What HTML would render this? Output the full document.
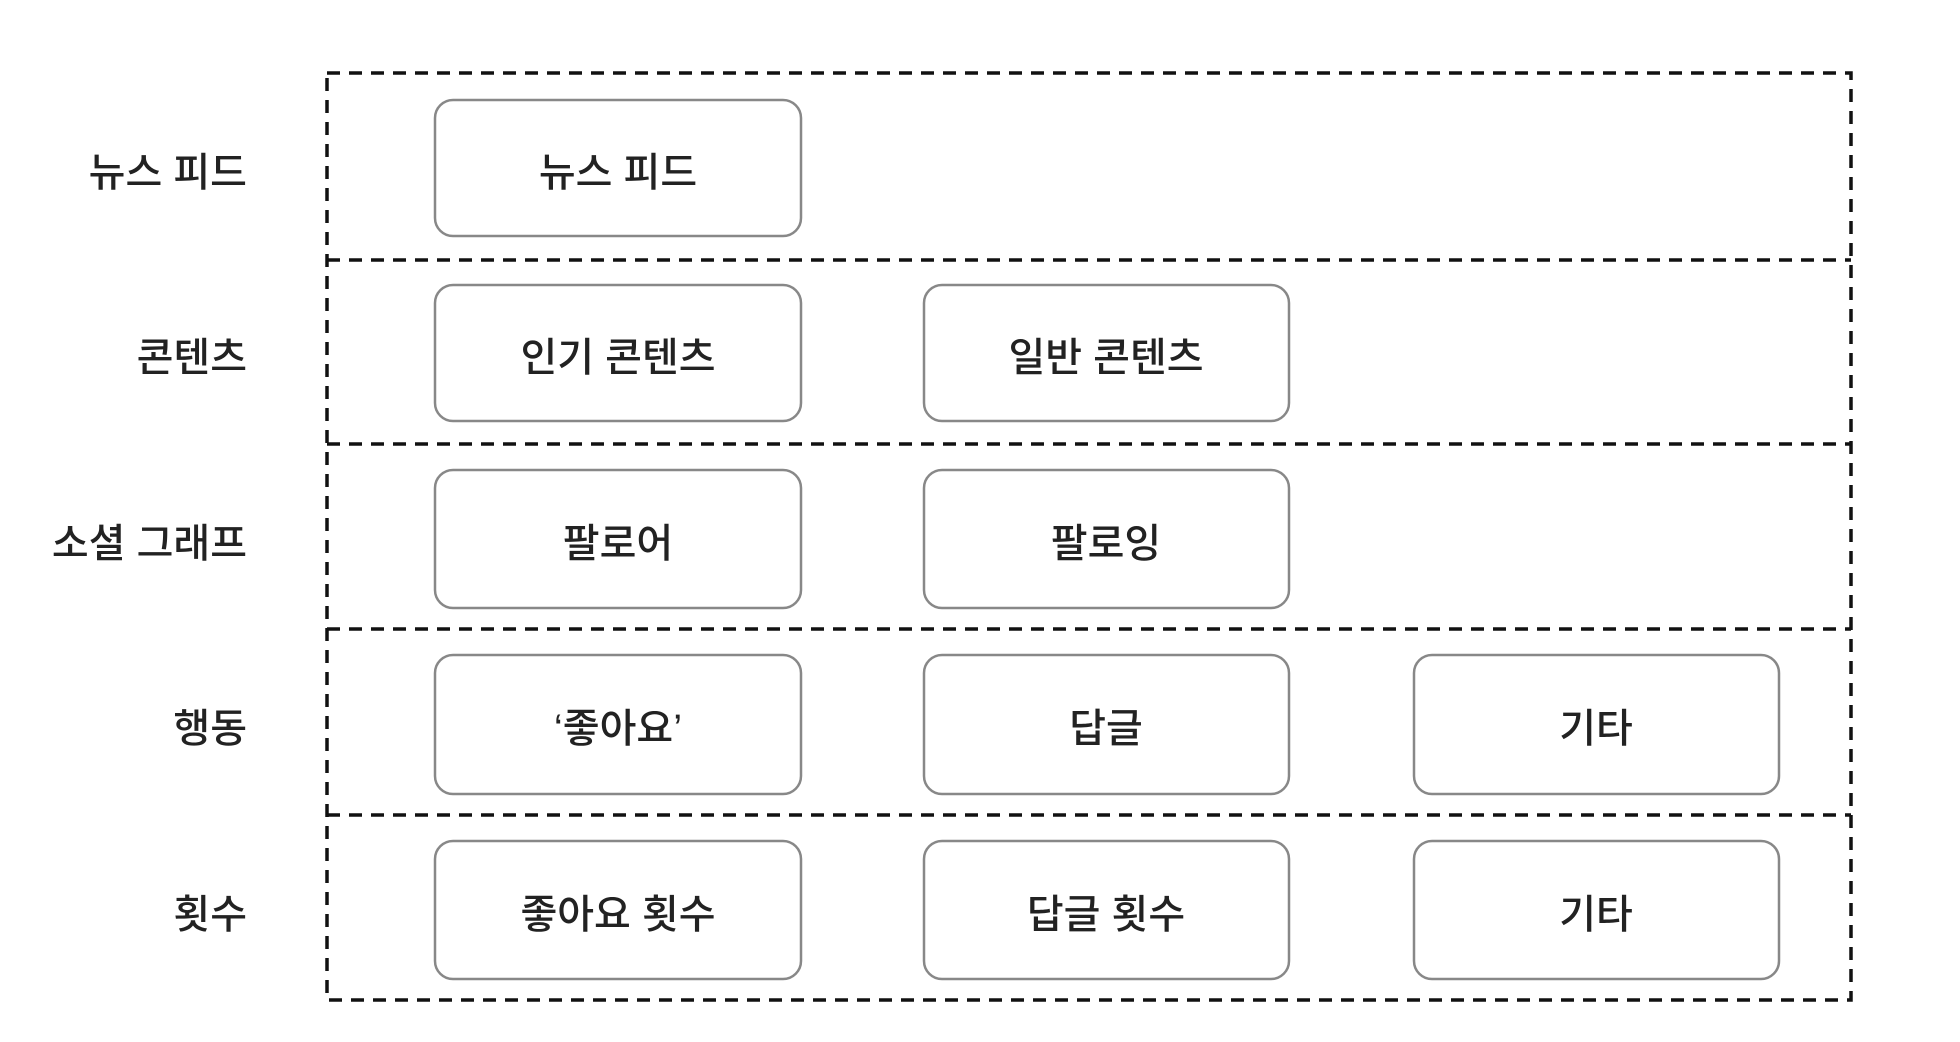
<!DOCTYPE html>
<html><head><meta charset="utf-8"><style>
html,body{margin:0;padding:0;background:#fff;}
svg{display:block;}
text{font-family:"Liberation Sans","Noto Sans CJK KR","NanumGothic",sans-serif;font-size:40px;fill:#222;font-weight:500;}
</style></head><body>
<svg width="1960" height="1042" viewBox="0 0 1960 1042" xmlns="http://www.w3.org/2000/svg">
<g fill="none" stroke="#111" stroke-width="3.5" stroke-dasharray="13 9">
<rect x="327" y="73" width="1524" height="927"/>
<line x1="327" y1="260" x2="1851" y2="260"/>
<line x1="327" y1="444" x2="1851" y2="444"/>
<line x1="327" y1="629" x2="1851" y2="629"/>
<line x1="327" y1="815" x2="1851" y2="815"/>
</g>
<g fill="#fff" stroke="#888" stroke-width="2.5">
<rect x="435" y="100" width="366" height="136" rx="18"/>
<rect x="435" y="285" width="366" height="136" rx="18"/>
<rect x="924" y="285" width="365" height="136" rx="18"/>
<rect x="435" y="470" width="366" height="138" rx="18"/>
<rect x="924" y="470" width="365" height="138" rx="18"/>
<rect x="435" y="655" width="366" height="139" rx="18"/>
<rect x="924" y="655" width="365" height="139" rx="18"/>
<rect x="1414" y="655" width="365" height="139" rx="18"/>
<rect x="435" y="841" width="366" height="138" rx="18"/>
<rect x="924" y="841" width="365" height="138" rx="18"/>
<rect x="1414" y="841" width="365" height="138" rx="18"/>
</g>
<g text-anchor="end">
<text x="247" y="186">뉴스 피드</text>
<text x="247" y="371">콘텐츠</text>
<text x="247" y="557">소셜 그래프</text>
<text x="247" y="742">행동</text>
<text x="247" y="928">횟수</text>
</g>
<g text-anchor="middle">
<text x="618" y="186">뉴스 피드</text>
<text x="618" y="371">인기 콘텐츠</text>
<text x="1106" y="371">일반 콘텐츠</text>
<text x="618" y="557">팔로어</text>
<text x="1106" y="557">팔로잉</text>
<text x="618" y="742">‘좋아요’</text>
<text x="1106" y="742">답글</text>
<text x="1596" y="742">기타</text>
<text x="618" y="928">좋아요 횟수</text>
<text x="1106" y="928">답글 횟수</text>
<text x="1596" y="928">기타</text>
</g>
</svg>
</body></html>
